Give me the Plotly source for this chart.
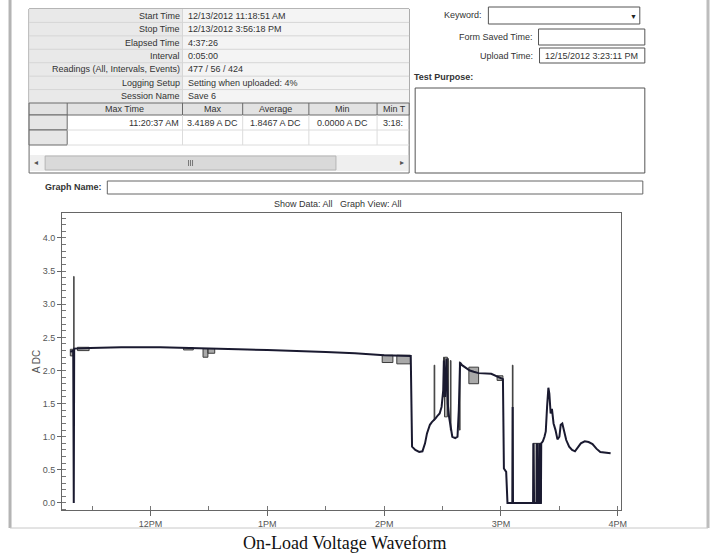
import plotly.graph_objects as go

W, H = 715, 556
WX = 707  # effective horizontal scale observed in the rendered page
DAY = "2012-12-13 "

# ---------------- data ----------------
avg_time = ["11:18:51", "11:20:20", "11:20:37", "11:20:50", "11:29:00", "11:45:00", "12:05:00",
            "12:15:00", "12:30:00", "12:45:00", "13:00:00", "13:15:00", "13:30:00", "13:45:00",
            "13:55:00", "14:00:00", "14:13:40", "14:14:20", "14:16:00", "14:18:00", "14:19:40",
            "14:21:00", "14:22:00", "14:23:30", "14:24:30", "14:25:40", "14:26:30", "14:27:30",
            "14:28:30", "14:29:30", "14:30:20", "14:30:40", "14:31:20", "14:32:00", "14:32:40",
            "14:33:20", "14:34:10", "14:35:00", "14:36:30", "14:37:40", "14:38:20", "14:39:00",
            "14:40:00", "14:41:00", "14:42:30", "14:44:00", "14:46:00", "14:48:30", "14:55:00",
            "14:58:30", "15:01:00", "15:01:30", "15:02:40", "15:03:20", "15:05:50", "15:06:00",
            "15:06:10", "15:16:30", "15:16:40", "15:17:00", "15:18:20", "15:18:30", "15:18:50",
            "15:19:30", "15:19:40", "15:20:00", "15:20:30", "15:20:40", "15:21:30", "15:22:20",
            "15:23:00", "15:23:40", "15:24:20", "15:24:50", "15:25:30", "15:26:10", "15:27:00",
            "15:28:00", "15:29:00", "15:30:00", "15:30:40", "15:31:30", "15:32:30", "15:33:30",
            "15:35:00", "15:36:30", "15:38:00", "15:39:30", "15:41:00", "15:43:00", "15:45:00",
            "15:47:00", "15:49:00", "15:51:00", "15:53:00", "15:56:18"]
avg_val = [2.28, 2.30, 0.00, 2.33, 2.34, 2.35, 2.35,
           2.34, 2.33, 2.32, 2.31, 2.30, 2.28, 2.26,
           2.24, 2.23, 2.22, 0.85, 0.80, 0.77, 0.78,
           0.90, 1.05, 1.18, 1.22, 1.25, 1.28, 1.32,
           1.35, 1.45, 1.70, 2.15, 1.60, 2.18, 1.50,
           1.30, 1.15, 1.00, 0.98, 1.00, 1.40, 2.12,
           2.08, 2.06, 2.02, 2.00, 1.98, 1.96, 1.95,
           1.90, 1.87, 0.52, 0.47, 0.00, 0.00, 1.45,
           0.00, 0.00, 0.90, 0.00, 0.00, 0.90, 0.00,
           0.00, 0.90, 0.00, 0.00, 0.90, 0.93, 1.00,
           1.08, 1.45, 1.74, 1.65, 1.35, 1.42, 1.20,
           1.10, 0.96, 1.00, 1.18, 1.20, 1.05, 0.95,
           0.85, 0.80, 0.78, 0.85, 0.90, 0.93, 0.92,
           0.89, 0.82, 0.77, 0.76, 0.75]

# min / max envelope boxes
env_start = ["11:18:51", "11:20:37", "11:22:30", "12:17:00", "12:27:00", "12:29:30", "13:59:00",
             "14:06:30", "14:25:40", "14:30:30", "14:31:00", "14:32:40", "14:34:00", "14:38:40",
             "14:43:30", "14:58:00", "15:05:50", "15:16:30"]
env_end = ["11:20:20", "11:20:45", "11:28:30", "12:22:00", "12:29:30", "12:33:00", "14:04:30",
           "14:13:30", "14:26:00", "14:30:50", "14:32:30", "14:33:00", "14:34:20", "14:39:00",
           "14:48:30", "15:01:00", "15:06:10", "15:20:40"]
env_lo = [2.22, 2.30, 2.30, 2.31, 2.20, 2.26, 2.12,
          2.10, 1.25, 1.60, 1.30, 1.40, 1.10, 1.10,
          1.80, 1.85, 0.00, 0.00]
env_hi = [2.32, 3.42, 2.35, 2.345, 2.33, 2.33, 2.23,
          2.23, 2.08, 2.20, 2.20, 2.18, 2.15, 2.13,
          2.05, 1.92, 2.08, 0.90]

info_labels = ["Start Time", "Stop Time", "Elapsed Time", "Interval",
               "Readings (All, Intervals, Events)", "Logging Setup", "Session Name"]
info_values = ["12/13/2012 11:18:51 AM", "12/13/2012 3:56:18 PM", "4:37:26", "0:05:00",
               "477 / 56 / 424", "Setting when uploaded: 4%", "Save 6"]
col_headers = ["", "Max Time", "Max", "Average", "Min", "Min T"]
row_values = ["", "11:20:37 AM", "3.4189 A DC", "1.8467 A DC", "0.0000 A DC", "3:18:"]

# ---------------- helpers ----------------
def fx(x):
    return x / WX

def fy(y):
    return 1 - y / H

shapes = []
annotations = []

def rect(x0, y0, x1, y1, line="#555", fill="rgba(0,0,0,0)", w=1):
    shapes.append(dict(type="rect", xref="paper", yref="paper",
                       x0=fx(x0), x1=fx(x1), y0=fy(y1), y1=fy(y0),
                       line=dict(color=line, width=w), fillcolor=fill))

def hline(x0, x1, y, color="#ccc", w=1):
    shapes.append(dict(type="line", xref="paper", yref="paper",
                       x0=fx(x0), x1=fx(x1), y0=fy(y), y1=fy(y),
                       line=dict(color=color, width=w)))

def vline(x, y0, y1, color="#ccc", w=1):
    shapes.append(dict(type="line", xref="paper", yref="paper",
                       x0=fx(x), x1=fx(x), y0=fy(y0), y1=fy(y1),
                       line=dict(color=color, width=w)))

def text(x, y, s, anchor="left", size=9, bold=False, color="#333",
         family="Liberation Sans, Arial, sans-serif"):
    if bold:
        s = "<b>" + s + "</b>"
    annotations.append(dict(xref="paper", yref="paper", x=fx(x), y=fy(y), text=s,
                            showarrow=False, xanchor=anchor, yanchor="middle",
                            font=dict(size=size, color=color, family=family)))

# ---------------- page frame ----------------
vline(10, 0, 528, color="#b4b4b4", w=3)
vline(706, 0, 528, color="#bdbdbd", w=3)
hline(10, 706, 528, color="#c8c8c8", w=1)

# ---------------- info table ----------------
tx0, tx1, ty0 = 29, 408, 9
rect(tx0, ty0, tx1, 173, line="#6a6a6a", fill="#ffffff")
rh = (103 - ty0) / len(info_labels)
rect(tx0, ty0, 182, 103, line="rgba(0,0,0,0)", fill="#e9e9e9", w=0)
rect(182, ty0, tx1, 103, line="rgba(0,0,0,0)", fill="#f4f4f4", w=0)
for i, (lab, val) in enumerate(zip(info_labels, info_values)):
    yc = ty0 + rh * (i + 0.5)
    if i > 0:
        hline(tx0, tx1, ty0 + rh * i, color="#d6d6d6")
    text(181, yc, lab, anchor="right")
    text(185, yc, val, anchor="left")
vline(182, ty0, 103, color="#d6d6d6")

col_x = [29, 67, 182, 242, 308, 376, 408]
rect(29, 103, 408, 115, line="#6a6a6a", fill="#e2e2e2")
for cx in col_x[1:-1]:
    vline(cx, 103, 115, color="#6a6a6a")
for j, h in enumerate(col_headers):
    if not h:
        continue
    if j == len(col_headers) - 1:
        text(col_x[j] + 4, 109, h, anchor="left")
    else:
        text((col_x[j] + col_x[j + 1]) / 2, 109, h, anchor="center")
# data rows
rect(29, 115, 67, 130, line="#6a6a6a", fill="#e6e6e6")
rect(29, 130, 67, 145, line="#6a6a6a", fill="#e6e6e6")
hline(67, 408, 130, color="#dcdcdc")
hline(67, 408, 145, color="#dcdcdc")
for cx in col_x[2:-1]:
    vline(cx, 115, 145, color="#dcdcdc")
for j, v in enumerate(row_values):
    if not v:
        continue
    if j == 1:
        text(col_x[2] - 2, 123, v, anchor="right")
    elif j == len(row_values) - 1:
        text(col_x[j] + 4, 123, v, anchor="left")
    else:
        text((col_x[j] + col_x[j + 1]) / 2, 123, v, anchor="center")
# scroll bar
rect(30, 155, 407, 171, line="rgba(0,0,0,0)", fill="#efefef", w=0)
rect(45, 156, 335, 170, line="#b5b5b5", fill="#d9d9d9")
for sx in (188, 190, 192):
    vline(sx, 160, 166, color="#777")
text(36, 163, "◂", anchor="center", size=8, color="#555")
text(401, 163, "▸", anchor="center", size=8, color="#555")

# ---------------- right form ----------------
text(483, 15, "Keyword:", anchor="right")
rect(487, 7, 638, 24, line="#555", fill="#ffffff")
text(632, 16, "▼", anchor="center", size=7, color="#222")
text(533, 37, "Form Saved Time:", anchor="right")
rect(537, 29, 643, 45, line="#555", fill="#ffffff")
text(533, 56, "Upload Time:", anchor="right")
rect(538, 48, 643, 63, line="#555", fill="#ffffff")
text(541, 56, "12/15/2012 3:23:11 PM", anchor="left")
text(411, 77, "Test Purpose:", anchor="left", bold=True)
rect(414, 88, 643, 173, line="#555", fill="#ffffff")

# ---------------- graph header ----------------
text(104, 187, "Graph Name:", anchor="right", bold=True)
rect(107, 181, 641, 194, line="#666", fill="#ffffff")
text(337, 204, "Show Data: All   Graph View: All", anchor="center")

# caption
text(344, 543, "On-Load Voltage Waveform", anchor="center", size=18, color="#111",
     family="Liberation Serif, Times New Roman, serif")

# ---------------- traces ----------------
ex, ey = [], []
for s, e, lo, hi in zip(env_start, env_end, env_lo, env_hi):
    ex += [DAY + s, DAY + e, DAY + e, DAY + s, DAY + s, None]
    ey += [lo, lo, hi, hi, lo, None]

fig = go.Figure()
fig.add_trace(go.Scatter(x=ex, y=ey, mode="lines", fill="toself",
                         fillcolor="#a9a9a9", line=dict(color="#3c3c3c", width=1),
                         hoverinfo="skip", showlegend=False))
fig.add_trace(go.Scatter(x=[DAY + t for t in avg_time], y=avg_val, mode="lines",
                         line=dict(color="#1a1a30", width=2), showlegend=False))

x0 = DAY + "11:14:40"
x1 = DAY + "16:01:30"
fig.update_layout(
    width=W, height=H,
    margin=dict(l=0, r=0, t=0, b=0),
    paper_bgcolor="#ffffff", plot_bgcolor="#ffffff",
    shapes=shapes, annotations=annotations, showlegend=False,
    font=dict(family="Liberation Sans, Arial, sans-serif", size=9, color="#555"),
    xaxis=dict(domain=[fx(62), fx(619)], type="date", range=[x0, x1],
               tick0=DAY + "00:00:00", dtick=3600000, tickformat="%-I%p",
               ticks="outside", ticklen=5, tickcolor="#666",
               showgrid=False, zeroline=False, showline=True, linecolor="#666",
               mirror=True, tickfont=dict(size=9, color="#555"),
               minor=dict(dtick=1800000, ticks="inside", ticklen=4, tickcolor="#777")),
    yaxis=dict(domain=[fy(510), fy(213)], range=[-0.106, 4.377],
               tick0=0, dtick=0.5, tickformat=".1f",
               ticks="outside", ticklen=4, tickcolor="#666",
               showgrid=False, zeroline=False, showline=True, linecolor="#666",
               mirror=True, tickfont=dict(size=9, color="#555"),
               title=dict(text="A DC", font=dict(size=10, color="#555"), standoff=0),
               minor=dict(dtick=0.1, ticks="inside", ticklen=4, tickcolor="#777")),
)

fig.write_html("out.html")
